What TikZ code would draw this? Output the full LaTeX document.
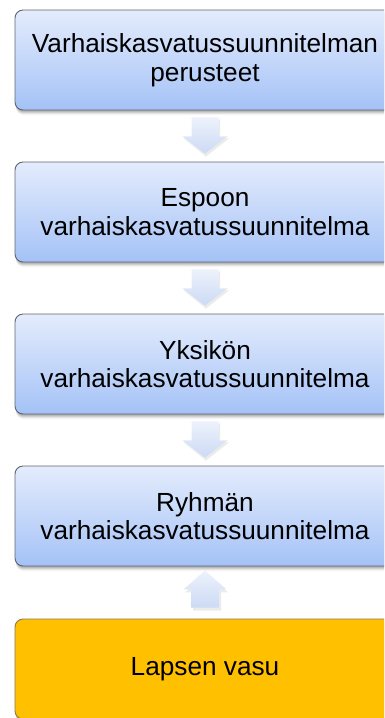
\documentclass[tikz,border=0pt]{standalone}
\usepackage{fontspec}
\setmainfont{Liberation Sans}
\usetikzlibrary{calc}
\definecolor{boxtop}{HTML}{E4ECFC}
\definecolor{boxbot}{HTML}{A4C2F7}
\definecolor{boxline}{HTML}{5E6673}
\definecolor{arrtop}{HTML}{EDF2FC}
\definecolor{arrbot}{HTML}{CCDAF5}
\definecolor{orangefill}{HTML}{FFC000}
\definecolor{orangeline}{HTML}{8C7A50}
\tikzset{
  bluebox/.style={rectangle, rounded corners=8pt, draw=boxline, line width=0.9pt,
    top color=boxtop, bottom color=boxbot, minimum width=380pt, minimum height=100pt,
    align=center, font=\fontsize{26.2pt}{28.5pt}\selectfont, inner sep=0pt},
  orangebox/.style={rectangle, rounded corners=8pt, draw=orangeline, line width=0.9pt,
    fill=orangefill, minimum width=380pt, minimum height=100pt,
    align=center, font=\fontsize{26.2pt}{28.5pt}\selectfont, inner sep=0pt},
  arrowfill/.style={top color=arrtop, bottom color=arrbot, draw=none},
  shadowlayer/.style={fill=black, draw=none, rounded corners=8pt},
}
\newcommand\boxshadow[1]{%
  \foreach \o/\a in {1/0.10,2/0.10,3/0.09,4/0.06,5/0.04}{%
    \fill[shadowlayer, opacity=\a] ($(#1.south west)+(1,\o)$) rectangle ($(#1.north east)+(1,\o)$);}}
\begin{document}
\begin{tikzpicture}[x=1pt,y=-1pt]
\useasboundingbox (0,0) rectangle (384,718);
\clip (0,0) rectangle (384,718);
% box geometry
\coordinate (c1) at (205,60);
\coordinate (c2) at (205,212);
\coordinate (c3) at (205,364);
\coordinate (c4) at (205,516);
\coordinate (c5) at (205,669);
% shadows first
\path (c1) node[minimum width=380pt, minimum height=100pt, inner sep=0pt] (s1) {};
\path (c2) node[minimum width=380pt, minimum height=100pt, inner sep=0pt] (s2) {};
\path (c3) node[minimum width=380pt, minimum height=100pt, inner sep=0pt] (s3) {};
\path (c4) node[minimum width=380pt, minimum height=100pt, inner sep=0pt] (s4) {};
\path (c5) node[minimum width=380pt, minimum height=100pt, inner sep=0pt] (s5) {};
\boxshadow{s1}\boxshadow{s2}\boxshadow{s3}\boxshadow{s4}\boxshadow{s5}
% boxes
\node[bluebox] (b1) at (c1) {Varhaiskasvatussuunnitelman\\perusteet};
\node[bluebox] (b2) at (c2) {Espoon\\varhaiskasvatussuunnitelma};
\node[bluebox] (b3) at (c3) {Yksikön\\varhaiskasvatussuunnitelma};
\node[bluebox] (b4) at (c4) {Ryhmän\\varhaiskasvatussuunnitelma};
\node[orangebox] (b5) at (c5) {Lapsen vasu};
% down arrows
\foreach \u/\v in {b1/b2,b2/b3,b3/b4}{
  \fill[black, opacity=0.08] ($(\u.south)+(-12,9)$) -- ($(\u.south)+(15,9)$) -- ($(\u.south)+(15,28)$) -- ($(\u.south)+(24,28)$) -- ($(\v.north)+(1,-5)$) -- ($(\u.south)+(-21,28)$) -- ($(\u.south)+(-12,28)$) -- cycle;
  \path[arrowfill] ($(\u.south)+(-13.5,7)$) -- ($(\u.south)+(13.5,7)$) -- ($(\u.south)+(13.5,26)$) -- ($(\u.south)+(22.5,26)$) -- ($(\v.north)+(0,-8)$) -- ($(\u.south)+(-22.5,26)$) -- ($(\u.south)+(-13.5,26)$) -- cycle;
}
% up arrow
\fill[black, opacity=0.08] ($(b4.south)+(-20,26)$) -- ($(b4.south)+(1,6)$) -- ($(b4.south)+(23,26)$) -- ($(b4.south)+(16,26)$) -- ($(b5.north)+(16,-8)$) -- ($(b5.north)+(-12,-8)$) -- ($(b4.south)+(-12,26)$) -- cycle;
\path[arrowfill] ($(b4.south)+(0,4)$) -- ($(b4.south)+(21.5,23)$) -- ($(b4.south)+(14,23)$) -- ($(b5.north)+(14,-11)$) -- ($(b5.north)+(-14,-11)$) -- ($(b4.south)+(-14,23)$) -- ($(b4.south)+(-21.5,23)$) -- cycle;
\end{tikzpicture}
\end{document}
